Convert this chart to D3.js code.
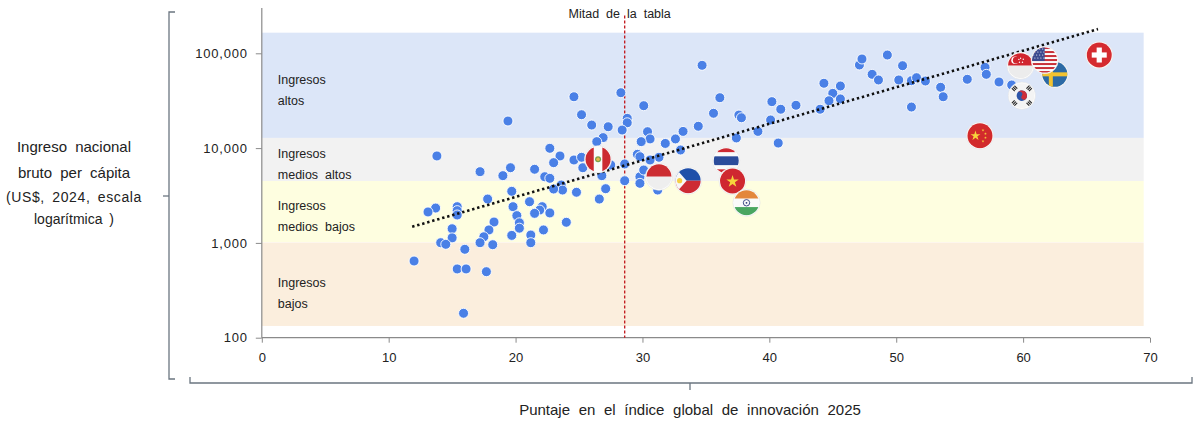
<!DOCTYPE html>
<html><head><meta charset="utf-8">
<script src="https://cdn.jsdelivr.net/npm/d3@7"></script>
<style>
body{margin:0;background:#fff;}
text{font-family:"Liberation Sans",Arial,sans-serif;fill:#222;}
</style></head><body>
<svg id="c" width="1200" height="423"></svg>
<script>
// ---------- DATA ----------
const dotScores=[28.3,24.6,30.1,28.8,28.8,25.2,26.0,27.3,28.4,19.4,30.4,30.6,29.9,26.9,26.4,31.8,32.6,22.7,23.5,13.8,
24.6,25.2,23.0,27.5,28.6,29.6,29.8,31.3,30.6,19.6,17.2,19.0,21.5,25.3,22.3,22.7,26.8,29.8,30.1,28.6,
29.8,31.2,23.6,23.7,23.0,24.8,27.1,26.6,19.7,17.8,21.1,15.4,15.4,15.4,13.7,13.1,19.8,22.1,21.9,21.5,
22.7,20.1,20.3,20.3,18.3,24.0,15.0,17.9,17.5,17.2,15.0,14.1,14.5,19.7,21.2,21.2,22.2,18.2,16.0,12.0,
15.4,16.1,17.7,15.9,34.7,36.1,35.6,34.4,33.2,33.0,37.6,37.8,37.4,39.1,40.2,40.9,40.1,42.1,40.7,44.0,
44.3,45.6,45.0,44.7,45.6,47.1,47.3,49.3,48.1,48.6,50.5,50.2,51.2,51.6,52.3,53.5,53.7,51.2,55.6,57.0,
57.1,58.1,59.1];
const dotGni=[38400,34800,28000,20600,18500,22500,17500,16800,15500,19300,14900,12500,11700,12900,11700,11200,12500,9950,8260,8260,
7490,8000,7020,6640,6800,8600,8120,8000,7490,6210,5640,5120,5980,6210,4990,4800,5120,4990,5870,4530,
4250,3610,4080,3610,3700,3420,3730,2900,3500,2900,2720,2410,2190,1970,2330,2120,2410,2410,2220,2050,
2070,1940,1630,1430,1660,1650,1410,1370,1160,1005,1130,1005,966,1200,1210,1005,1370,957,856,644,
531,531,497,181,74700,34000,23300,17000,15000,9550,22300,20900,12800,15000,30900,25700,19800,28300,11300,25700,
48300,45200,37800,31600,33000,75300,87100,95900,60000,52300,74000,52300,51400,55300,51000,43800,34800,27100,53200,71200,
60000,49800,46300];

const flagCountries=["PE","ID","PH","TH","VN","IN","CN","SE","SG","US","KR","CH"];
const flagScores=[26.5,31.3,33.6,36.6,37.1,38.2,56.6,62.5,59.8,61.7,59.9,66.0];
const flagGni=[7620,4990,4530,7360,4500,2650,13500,60000,74000,84900,35700,95900];

const bandNames=[["Ingresos","altos"],["Ingresos","medios  altos"],["Ingresos","medios  bajos"],["Ingresos","bajos"]];
const bandLow=[12800,4500,1020,133];
const bandHigh=[165000,12800,4500,1010];
const bandColors=["#dce6f8","#f2f2f2","#fefee0","#fbeedd"];

const xTicks=[0,10,20,30,40,50,60,70];
const yTicks=[100,1000,10000,100000];
const medianScore=28.6;
const medianLabel="Mitad de la tabla";
const trendScores=[11.85,65.9];
const trendGni=[1480,180000];
const yTitle=["Ingreso nacional","bruto per cápita","(US$, 2024, escala","logarítmica )"];
const xTitle="Puntaje en el índice global de innovación 2025";

// ---------- CHART ----------
const svg=d3.select("#c");
const x=d3.scaleLinear().domain([0,70]).range([261.8,1150]);
const y=d3.scaleLog().domain([100,100000]).range([337.7,53.3]);
const bandRight=x(69.5);
const labelShift=[-1.5,-1.5,-1.5,2.5];

// bands
const bands=svg.append("g");
bandNames.forEach((nm,i)=>{
  bands.append("rect").attr("x",x(0)).attr("width",bandRight-x(0))
    .attr("y",y(bandHigh[i])).attr("height",y(bandLow[i])-y(bandHigh[i]))
    .attr("fill",bandColors[i]);
  const top=y(bandHigh[i]), bot=y(bandLow[i]);
  const mid=(top+bot)/2+labelShift[i];
  const t=bands.append("text").attr("font-size",12.5).style("white-space","pre").attr("fill","#333");
  t.append("tspan").attr("x",x(0)+16).attr("y",mid).text(nm[0]);
  t.append("tspan").attr("x",x(0)+16).attr("y",mid+21).text(nm[1]);
});

// axes
const axG=svg.append("g");
axG.append("line").attr("x1",x(0)).attr("x2",x(0)).attr("y1",y(100)).attr("y2",y(300000)).attr("stroke","#8a8a8a").attr("stroke-width",1.2);
axG.append("line").attr("x1",x(0)).attr("x2",x(70)).attr("y1",y(100)).attr("y2",y(100)).attr("stroke","#8a8a8a").attr("stroke-width",1.2);

const yAx=svg.append("g").attr("transform",`translate(${x(0)},0)`)
  .call(d3.axisLeft(y).tickValues(yTicks).tickFormat(d3.format(",")).tickSize(6).tickPadding(8));
yAx.select(".domain").remove();
yAx.selectAll("line").attr("stroke","#8a8a8a");
yAx.selectAll("text").attr("font-size",13).attr("letter-spacing",0.8).attr("fill","#222").attr("font-family","Liberation Sans, Arial, sans-serif");

const xAx=svg.append("g").attr("transform",`translate(0,${y(100)})`)
  .call(d3.axisBottom(x).tickValues(xTicks).tickSize(5).tickPadding(10));
xAx.select(".domain").remove();
xAx.selectAll("line").attr("stroke","#8a8a8a");
xAx.selectAll("text").attr("font-size",13).attr("fill","#222").attr("font-family","Liberation Sans, Arial, sans-serif");

// median line
svg.append("line").attr("x1",x(medianScore)).attr("x2",x(medianScore))
  .attr("y1",y(250000)).attr("y2",y(100)).attr("stroke","#c0151b").attr("stroke-width",1.3).attr("stroke-dasharray","3,2");
svg.append("text").attr("x",x(medianScore)-5).attr("y",18).attr("text-anchor","middle")
  .attr("font-size",12.5).attr("word-spacing",3.5).text(medianLabel);

// dots
svg.append("g").selectAll("circle").data(dotScores).join("circle")
  .attr("cx",(d)=>x(d)).attr("cy",(d,i)=>y(dotGni[i])).attr("r",5)
  .attr("fill","#4a80e6").attr("stroke","#fff").attr("stroke-width",0.9);

// trend
svg.append("line").attr("x1",x(trendScores[0])).attr("y1",y(trendGni[0]))
  .attr("x2",x(trendScores[1])).attr("y2",y(trendGni[1]))
  .attr("stroke","#111").attr("stroke-width",2.6).attr("stroke-dasharray","2.4,2.8");

// flags
function starPath(cx,cy,R,rot){
  const r=R*0.382, pts=[];
  rot=rot||0;
  for(let k=0;k<10;k++){
    const a=-Math.PI/2+rot+k*Math.PI/5, rr=k%2?r:R;
    pts.push([cx+rr*Math.cos(a),cy+rr*Math.sin(a)]);
  }
  return "M"+pts.map(p=>p.join(",")).join("L")+"Z";
}
function drawFlag(g,code){
  const S=13;
  const rect=(a,b,w,h,f)=>g.append("rect").attr("x",a).attr("y",b).attr("width",w).attr("height",h).attr("fill",f);
  const RED="#cc2a31";
  switch(code){
    case "PE":
      rect(-S,-S,2*S,2*S,"#fafafa"); rect(-S,-S,8.7,2*S,RED); rect(4.3,-S,8.7,2*S,RED);
      g.append("circle").attr("r",3).attr("fill","#7aa04a");
      g.append("circle").attr("r",1.7).attr("fill","#e8b94a");
      break;
    case "ID":
      rect(-S,-S,2*S,S,"#cc2d31"); rect(-S,0,2*S,S,"#eeeeee"); break;
    case "PH":
      rect(-S,-S,2*S,S,"#1f4fa9"); rect(-S,0,2*S,S,"#cd2b34");
      g.append("path").attr("d","M-13,-13L-13,13L-1.5,0Z").attr("fill","#f7f7f7");
      g.append("circle").attr("cx",-8.5).attr("cy",0).attr("r",2.6).attr("fill","#f4cf45");
      break;
    case "TH":
      rect(-S,-S,2*S,2*S,"#fafafa"); rect(-S,-S,2*S,4.4,"#cd2a33"); rect(-S,8.6,2*S,4.4,"#cd2a33");
      rect(-S,-4.4,2*S,8.8,"#2b4c9b"); break;
    case "VN":
      rect(-S,-S,2*S,2*S,"#cf2830");
      g.append("path").attr("d",starPath(0,0.5,6.5)).attr("fill","#f6d43c"); break;
    case "IN":
      rect(-S,-S,2*S,2*S,"#fafafa"); rect(-S,-S,2*S,8.7,"#e3873c"); rect(-S,4.3,2*S,8.7,"#4aa661");
      g.append("circle").attr("r",3.2).attr("fill","none").attr("stroke","#2b3a7c").attr("stroke-width",0.9);
      g.append("circle").attr("r",0.9).attr("fill","#2b3a7c"); break;
    case "CN":
      rect(-S,-S,2*S,2*S,"#d22a2c");
      g.append("path").attr("d",starPath(-4.5,0,5.2)).attr("fill","#f6d43c");
      [[3,-5.5],[5.5,-2],[5.5,2],[3,5.5]].forEach(p=>g.append("path").attr("d",starPath(p[0],p[1],1.4)).attr("fill","#f6d43c"));
      break;
    case "SE":
      rect(-S,-S,2*S,2*S,"#2c6aa5"); rect(-6,-S,4,2*S,"#f2c330"); rect(-S,-2,2*S,4,"#f2c330"); break;
    case "SG":
      rect(-S,-S,2*S,S,"#d1262f"); rect(-S,0,2*S,S,"#ececec");
      g.append("circle").attr("cx",-5.5).attr("cy",-5.5).attr("r",3.8).attr("fill","#fff");
      g.append("circle").attr("cx",-4.3).attr("cy",-5.5).attr("r",3.4).attr("fill","#d1262f");
      [[-1.5,-8],[1.2,-7],[0.4,-4],[-2.6,-4],[-3.2,-6.8]].forEach(p=>g.append("circle").attr("cx",p[0]+1.5).attr("cy",p[1]+0.5).attr("r",0.7).attr("fill","#fff"));
      break;
    case "US":
      rect(-S,-S,2*S,2*S,"#fafafa");
      for(let k=0;k<13;k+=2) rect(-S,-S+k*2,2*S,2,"#c8313a");
      rect(-S,-S,13,14,"#3c4a8f");
      for(let r=0;r<4;r++)for(let c=0;c<4;c++) g.append("circle").attr("cx",-11+c*3+(r%2)*1.2).attr("cy",-11+r*3).attr("r",0.55).attr("fill","#fff");
      break;
    case "KR":
      rect(-S,-S,2*S,2*S,"#f4f4f4");
      g.append("g").attr("transform","rotate(33)").call(gg=>{
        gg.append("circle").attr("r",5.2).attr("fill","#2f56a8");
        gg.append("path").attr("d","M-5.2,0A5.2,5.2 0 0 1 5.2,0A2.6,2.6 0 0 1 0,0A2.6,2.6 0 0 0 -5.2,0Z").attr("fill","#cd2e3a");
      });
      [[-8,-8,45],[8,-8,-45],[-8,8,-45],[8,8,45]].forEach(p=>{
        const tg=g.append("g").attr("transform",`translate(${p[0]},${p[1]}) rotate(${p[2]})`);
        for(let k=0;k<3;k++) tg.append("rect").attr("x",-3).attr("y",-2.4+k*1.8).attr("width",6).attr("height",1.1).attr("fill","#222");
      });
      break;
    case "CH":
      rect(-S,-S,2*S,2*S,"#d52b2f"); rect(-2.6,-7.5,5.2,15,"#fff"); rect(-7.5,-2.6,15,5.2,"#fff"); break;
  }
}
const defs=svg.append("defs");
const fG=svg.append("g");
flagCountries.forEach((code,i)=>{
  const id="clip"+code;
  defs.append("clipPath").attr("id",id).append("circle").attr("r",12.5);
  const g=fG.append("g").attr("transform",`translate(${x(flagScores[i])},${y(flagGni[i])})`);
  g.append("circle").attr("r",13.6).attr("fill","#fff").attr("stroke","#e2e2e2").attr("stroke-width",0.6);
  const inner=g.append("g").attr("clip-path",`url(#${id})`);
  drawFlag(inner,code);
});

// brackets
const br=svg.append("g").attr("fill","none").attr("stroke","#6b7680").attr("stroke-width",1.3);
br.append("path").attr("d","M175,12 L169,12 L169,379 L175,379");
br.append("line").attr("x1",163).attr("x2",169).attr("y1",196).attr("y2",196);
br.append("path").attr("d","M190,377 L190,383 L1192,383 L1192,377");
br.append("line").attr("x1",690).attr("x2",690).attr("y1",383).attr("y2",390);

// titles
const yt=svg.append("text").attr("text-anchor","middle").attr("fill","#111");
const ySizes=[15,15,14,14], yPos=[152,178,202,224];
yTitle.forEach((s,i)=>yt.append("tspan").attr("x",74).attr("y",yPos[i]).attr("font-size",ySizes[i])
  .attr("word-spacing",i<2?4:3).attr("letter-spacing",i===2?0.6:0).text(s));
svg.append("text").attr("x",690).attr("y",415).attr("text-anchor","middle").attr("font-size",15)
  .attr("word-spacing",4.5).attr("fill","#111").text(xTitle);
</script>
</body></html>
